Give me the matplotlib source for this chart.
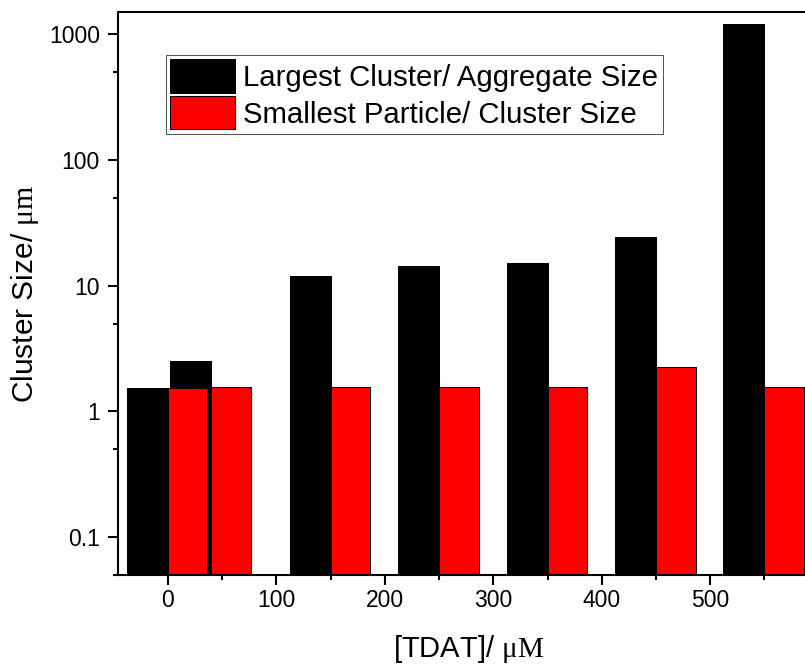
import matplotlib
matplotlib.use("Agg")
import matplotlib.pyplot as plt
from matplotlib.ticker import LogLocator, FixedLocator, MultipleLocator, NullFormatter

plt.rcParams['font.family'] = ['Liberation Sans', 'DejaVu Sans']
plt.rcParams['mathtext.fontset'] = 'custom'
plt.rcParams['mathtext.rm'] = 'Liberation Serif'
plt.rcParams['mathtext.it'] = 'Liberation Serif:italic'

# group positions ([TDAT] / uM) and bar heights (um)
conc = [0, 40, 150, 250, 350, 450, 550]
largest = [1.53, 2.52, 11.97, 14.4, 15.1, 24.4, 1200]
smallest = [1.53, 1.55, 1.55, 1.55, 1.55, 2.26, 1.55]
labels = ['Largest Cluster/ Aggregate Size', 'Smallest Particle/ Cluster Size']
xticks = [0, 100, 200, 300, 400, 500]
yticks = [0.1, 1, 10, 100, 1000]

fig = plt.figure(figsize=(8.05, 6.67), dpi=100)
# right side of the frame runs off the picture, like the original
ax = fig.add_axes([118 / 805, 1 - 575 / 667, 700.7 / 805, 562.7 / 667])

ax.bar(conc, largest, width=-37.8, align='edge', bottom=0.01,
       color='black', edgecolor='black', linewidth=0.75, label=labels[0])
ax.bar(conc, smallest, width=36.5, align='edge', bottom=0.01,
       color='#ff0000', edgecolor='black', linewidth=0.75, label=labels[1])

ax.set_yscale('log')
ax.set_ylim(0.05, 1500)
ax.set_xlim(-46, 600)

ax.xaxis.set_major_locator(FixedLocator(xticks))
ax.xaxis.set_minor_locator(MultipleLocator(50))
ax.yaxis.set_major_locator(FixedLocator(yticks))
ax.yaxis.set_major_formatter(plt.FuncFormatter(lambda v, p: f"{v:g}"))
ax.yaxis.set_minor_locator(LogLocator(base=10, subs=[5]))
ax.yaxis.set_minor_formatter(NullFormatter())

ax.tick_params(which='major', direction='out', length=7, width=1.5, labelsize=16.5)
ax.tick_params(which='minor', direction='out', length=3.5, width=1.5)
ax.tick_params(axis='y', which='major', pad=6)
ax.tick_params(axis='x', which='major', pad=3)
for s in ax.spines.values():
    s.set_linewidth(1.5)

ax.set_xlabel(r'[TDAT]/ $\mathrm{\mu M}$', fontsize=21, labelpad=15)
ax.set_ylabel(r'Cluster Size/ $\mathrm{\mu m}$', fontsize=21.5, labelpad=6)

leg = ax.legend(loc='upper left', bbox_to_anchor=(0.068, 0.924), borderaxespad=0,
                fontsize=21.2, handlelength=2.2, handleheight=1.35,
                labelspacing=0.13, borderpad=0.15, handletextpad=0.28,
                fancybox=False, framealpha=1)
leg.get_frame().set_edgecolor('#555555')
leg.get_frame().set_linewidth(0.75)

fig.savefig('out.png', dpi=100)
